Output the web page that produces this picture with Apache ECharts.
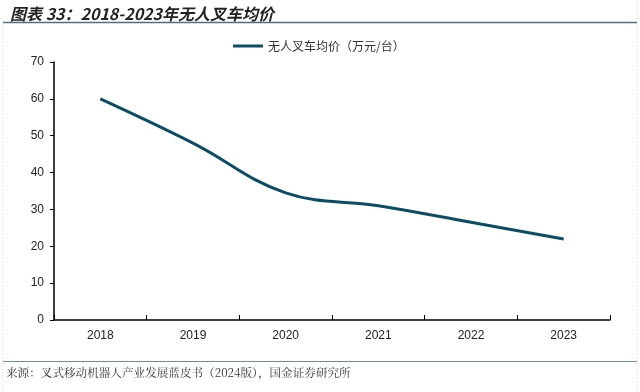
<!DOCTYPE html>
<html><head><meta charset="utf-8">
<script src="https://cdn.jsdelivr.net/npm/echarts@6/dist/echarts.min.js"></script>
<style>html,body{margin:0;padding:0;background:#fff}#c{width:640px;height:392px}</style>
</head><body><div id="c"></div>
<script>
const categories = ['2018','2019','2020','2021','2022','2023'];
const seriesName = '无人叉车均价（万元/台）';
const priceValues = [60, 48, 34.5, 31, 26.5, 22];
const yTicks = [0, 10, 20, 30, 40, 50, 60, 70];
const titleText = '图表 33：2018-2023年无人叉车均价';
const sourceText = '来源：叉式移动机器人产业发展蓝皮书（2024版），国金证券研究所';

const chart = echarts.init(document.getElementById('c'));
chart.setOption({
  animation: false,
  backgroundColor: '#fff',
  title: {
    text: titleText, left: 5, top: 1,
    textStyle: {fontSize: 16, fontWeight: 'bold', fontStyle: 'italic', color: '#222', fontFamily: '"Noto Sans CJK SC", sans-serif'}
  },
  graphic: [
    {type: 'line', shape: {x1: 3, y1: 22.5, x2: 637, y2: 22.5}, style: {stroke: '#4f6f7a', lineWidth: 1.5}},
    {type: 'line', shape: {x1: 3, y1: 361.5, x2: 637, y2: 361.5}, style: {stroke: '#6f8f9c', lineWidth: 1}},
    {type: 'line', shape: {x1: 2.5, y1: 24, x2: 2.5, y2: 392}, style: {stroke: '#ddd', lineWidth: 1, lineDash: [1, 2]}},
    {type: 'line', shape: {x1: 637.5, y1: 0, x2: 637.5, y2: 392}, style: {stroke: '#ddd', lineWidth: 1, lineDash: [1, 2]}},
    {type: 'text', left: 6, top: 367, style: {text: sourceText, fontSize: 11.6, fill: '#333', fontFamily: '"Noto Serif CJK SC", "Noto Sans CJK SC", serif'}}
  ],
  legend: {
    top: 35, left: 228, itemWidth: 30, itemHeight: 3, itemGap: 4,
    icon: 'rect',
    textStyle: {fontSize: 12, color: '#333', fontFamily: '"Noto Sans CJK SC", sans-serif'},
    data: [seriesName]
  },
  grid: {left: 54, right: 30, top: 62, bottom: 72},
  xAxis: {
    type: 'category', data: categories, boundaryGap: true,
    axisLine: {lineStyle: {color: '#000', width: 1.5}},
    axisTick: {show: true, length: 5, inside: true, lineStyle: {color: '#000'}},
    axisLabel: {color: '#222', fontSize: 12, margin: 10, fontFamily: 'Arial, "Liberation Sans", sans-serif'},
    splitLine: {show: false}
  },
  yAxis: {
    type: 'value', min: yTicks[0], max: yTicks[yTicks.length - 1], interval: 10,
    axisLine: {show: true, lineStyle: {color: '#000', width: 1.5}},
    axisTick: {show: true, length: 4, lineStyle: {color: '#000'}},
    axisLabel: {color: '#222', fontSize: 12, margin: 10, fontFamily: 'Arial, "Liberation Sans", sans-serif'},
    splitLine: {show: false}
  },
  series: [{
    name: seriesName, type: 'line', data: priceValues, smooth: 0.4,
    showSymbol: false, symbol: 'none',
    lineStyle: {color: '#0b4d66', width: 3},
    itemStyle: {color: '#0b4d66'}
  }]
});
</script></body></html>
